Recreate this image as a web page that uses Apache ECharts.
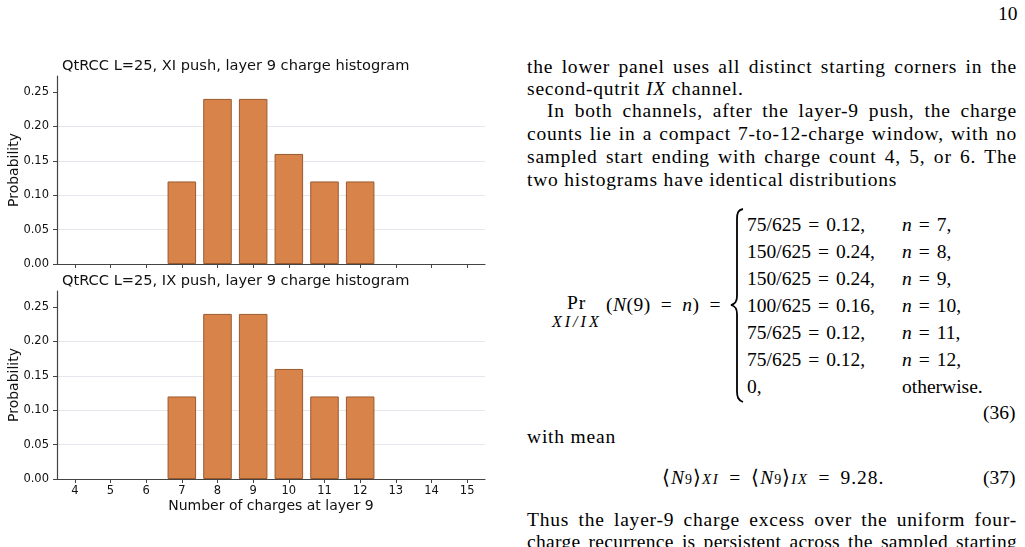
<!DOCTYPE html>
<html lang="en">
<head>
<meta charset="UTF-8">
<title>QtRCC layer 9 charge histogram</title>
<script src="https://cdn.jsdelivr.net/npm/echarts@6/dist/echarts.min.js"></script>
<style>
    body { margin: 0; width: 1025px; height: 547px; overflow: hidden; background: #fff; position: relative; }
    #main { position: absolute; left: 0; top: 0; width: 520px; height: 547px; }
    .t { position: absolute; font-family: "Liberation Serif", serif; font-size: 19.5px; color: #000; white-space: nowrap; line-height: 22px; }
    .p { letter-spacing: 0.8px; }
    .j { width: 490px; text-align: justify; text-align-last: justify; white-space: normal; }
    .m { font-style: italic; }
    .sub { font-size: 15px; font-style: italic; letter-spacing: 1.5px; }
    .eq { margin: 0 7px; }
    .eqw { margin: 0 10px; }
</style>
</head>
<body>
<div id="main"></div>

<div class="t" style="left:998px;top:3px;">10</div>

<div class="t p j" style="left:527px;top:56px;">the lower panel uses all distinct starting corners in the</div>
<div class="t p" style="left:527px;top:78px;">second-qutrit <span class="m">IX</span> channel.</div>
<div class="t p j" style="left:547px;top:100px;width:470px;">In both channels, after the layer-9 push, the charge</div>
<div class="t p j" style="left:527px;top:123px;">counts lie in a compact 7-to-12-charge window, with no</div>
<div class="t p j" style="left:527px;top:146px;">sampled start ending with charge count 4, 5, or 6. The</div>
<div class="t p" style="left:527px;top:169px;">two histograms have identical distributions</div>

<!-- eq 36 -->
<div class="t" style="left:567px;top:292px;letter-spacing:1px;">Pr</div>
<div class="t sub" style="left:552px;top:311px;font-size:16px;letter-spacing:3px;">XI/IX</div>
<div class="t" style="left:606px;top:294px;letter-spacing:0.5px;">(<span class="m">N</span>(9)<span class="eqw">=</span><span class="m">n</span>)<span class="eqw">=</span></div>
<svg style="position:absolute;left:727px;top:207px" width="20" height="198">
    <path d="M16,2 C11,3 10,6 10,12 L10,89 C10,95 8,97 4,98 C8,99 10,101 10,107 L10,184 C10,190 11,193 16,195"
          fill="none" stroke="#000" stroke-width="1.8"/>
</svg>
<div id="cases"></div>
<div class="t" style="left:983px;top:402px;">(36)</div>

<div class="t p" style="left:527px;top:426px;">with mean</div>
<div class="t" style="left:662px;top:467px;letter-spacing:1px;">⟨<span class="m">N</span><span style="font-size:14px">9</span>⟩<span class="sub">XI</span><span class="eqw">=</span>⟨<span class="m">N</span><span style="font-size:14px">9</span>⟩<span class="sub">IX</span><span class="eqw">=</span>9.28.</div>
<div class="t" style="left:983px;top:467px;">(37)</div>

<div class="t p j" style="left:527px;top:509px;">Thus the layer-9 charge excess over the uniform four-</div>
<div class="t j" style="left:527px;top:531px;letter-spacing:0.3px;">charge recurrence is persistent across the sampled starting</div>

<script>
    var charges = ['4', '5', '6', '7', '8', '9', '10', '11', '12', '13', '14', '15'];
    var probXI = [0, 0, 0, 0.12, 0.24, 0.24, 0.16, 0.12, 0.12, 0, 0, 0];
    var probIX = [0, 0, 0, 0.12, 0.24, 0.24, 0.16, 0.12, 0.12, 0, 0, 0];
    var yTicks = [0, 0.05, 0.10, 0.15, 0.20, 0.25];

    // rows of the cases in eq. (36)
    var caseLeft = ['75/625 = 0.12,', '150/625 = 0.24,', '150/625 = 0.24,', '100/625 = 0.16,',
        '75/625 = 0.12,', '75/625 = 0.12,', '0,'];
    var caseRight = ['n = 7,', 'n = 8,', 'n = 9,', 'n = 10,', 'n = 11,', 'n = 12,', 'otherwise.'];

    function mathText(s) {
        return s.replace('n = ', '<span class="m">n</span><span class="eq">=</span>')
            .replace(' = ', '<span class="eq">=</span>');
    }

    function buildCases() {
        var html = '';
        for (var i = 0; i < caseLeft.length; i++) {
            var rowTop = 214 + i * 27;
            html += '<div class="t" style="left:747px;top:' + rowTop + 'px;">' + mathText(caseLeft[i]) + '</div>';
            html += '<div class="t" style="left:902px;top:' + rowTop + 'px;">' + mathText(caseRight[i]) + '</div>';
        }
        document.getElementById('cases').innerHTML = html;
    }
    buildCases();

    var myChart = echarts.init(document.getElementById('main'));

    var font = 'DejaVu Sans';
    function xAxisOf(idx, showLabels) {
        return {
            type: 'category',
            gridIndex: idx,
            data: charges,
            boundaryGap: true,
            name: showLabels ? 'Number of charges at layer 9' : '',
            nameLocation: 'middle',
            nameGap: 20,
            nameMoveOverlap: false,
            nameTextStyle: {fontFamily: font, fontSize: 14, color: '#111'},
            axisLine: {lineStyle: {color: '#444', width: 1.2}},
            axisTick: {show: true, alignWithLabel: true, interval: 0, length: 4, lineStyle: {color: '#444'}},
            axisLabel: {show: showLabels, interval: 0, margin: 6, fontFamily: font, fontSize: 11.5, color: '#111'},
            splitLine: {show: false}
        };
    }
    function yAxisOf(idx) {
        return {
            type: 'value',
            gridIndex: idx,
            min: 0,
            max: 0.2733,
            name: 'Probability',
            nameLocation: 'middle',
            nameGap: 36,
            nameMoveOverlap: false,
            nameTextStyle: {fontFamily: font, fontSize: 14, color: '#111'},
            axisLine: {show: true, lineStyle: {color: '#444', width: 1.2}},
            axisTick: {show: true, length: 4, customValues: yTicks, lineStyle: {color: '#444'}},
            axisLabel: {
                customValues: yTicks, margin: 8, fontFamily: font, fontSize: 11.5, color: '#111',
                formatter: function (v) { return v.toFixed(2); }
            },
            splitLine: {show: true, showMaxLine: false, lineStyle: {color: '#e6e6ee', width: 1}}
        };
    }

    // empty bins are not drawn
    function barData(values) {
        return values.map(function (v) { return v === 0 ? '-' : v; });
    }

    var barStyle = {color: '#d8834a', borderColor: '#9a5a2e', borderWidth: 1};

    myChart.setOption({
        animation: false,
        title: [
            {text: 'QtRCC L=25, XI push, layer 9 charge histogram', left: 57, top: 54,
                textStyle: {fontFamily: font, fontSize: 14.6, fontWeight: 'normal', color: '#111'}},
            {text: 'QtRCC L=25, IX push, layer 9 charge histogram', left: 57, top: 269,
                textStyle: {fontFamily: font, fontSize: 14.6, fontWeight: 'normal', color: '#111'}}
        ],
        grid: [
            {left: 57, top: 76, width: 428, height: 188, outerBoundsMode: 'none'},
            {left: 57, top: 291, width: 428, height: 188, outerBoundsMode: 'none'}
        ],
        xAxis: [xAxisOf(0, false), xAxisOf(1, true)],
        yAxis: [yAxisOf(0), yAxisOf(1)],
        series: [
            {type: 'bar', xAxisIndex: 0, yAxisIndex: 0, data: barData(probXI), barWidth: '80%', itemStyle: barStyle},
            {type: 'bar', xAxisIndex: 1, yAxisIndex: 1, data: barData(probIX), barWidth: '80%', itemStyle: barStyle}
        ]
    });
</script>
</body>
</html>
